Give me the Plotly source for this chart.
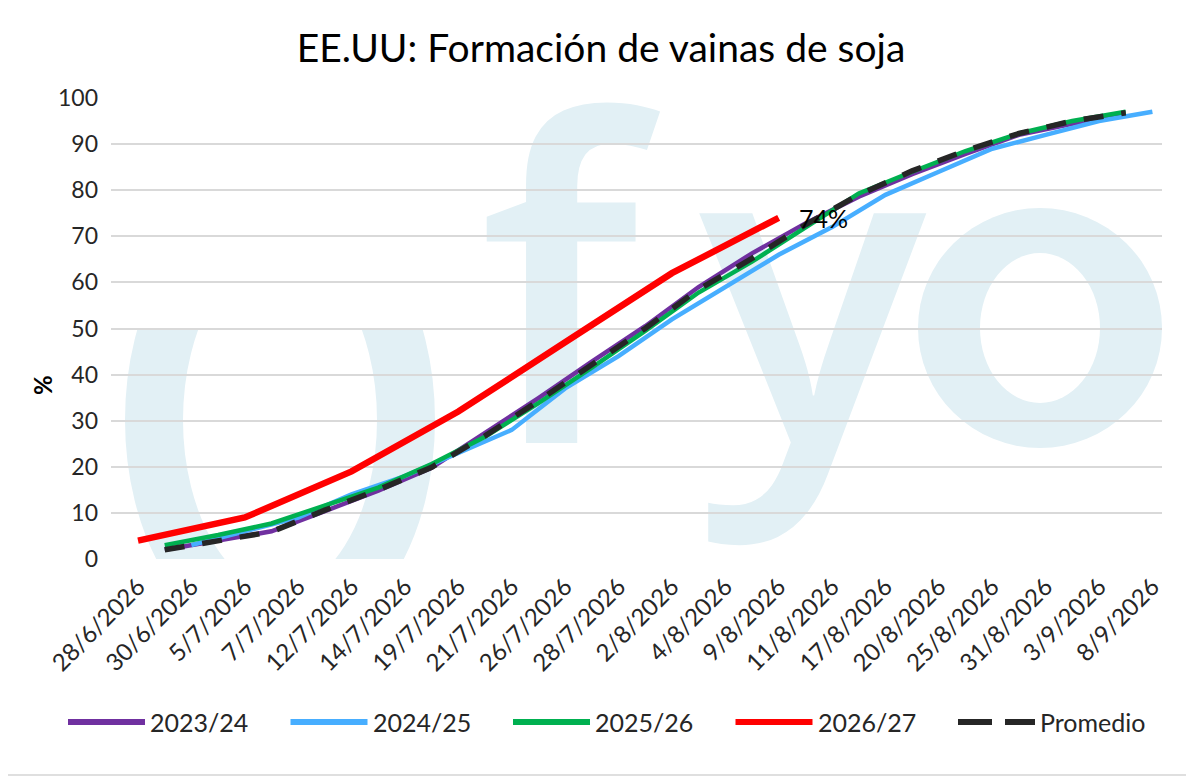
import base64
import plotly.graph_objects as go

# fechas del eje (campaña actual)
fechas = ["28/6/2026", "30/6/2026", "5/7/2026", "7/7/2026", "12/7/2026",
          "14/7/2026", "19/7/2026", "21/7/2026", "26/7/2026", "28/7/2026",
          "2/8/2026", "4/8/2026", "9/8/2026", "11/8/2026", "17/8/2026",
          "20/8/2026", "25/8/2026", "31/8/2026", "3/9/2026", "8/9/2026"]

# % de formación de vainas
v_2324 = [2.0, 4.0, 6.0, 10.4, 14.8, 19.8, 27.3, 34.9, 42.8, 50.5,
          59.0, 66.3, 72.8, 78.6, 83.5, 87.9, 92.0, 94.5, 96.8]
v_2425 = [3, 6, 9, 14, 18, 23, 28, 37, 44, 52, 59, 66, 72, 79, 84, 89, 92, 95, 97]
v_2526 = [3.0, 5.2, 7.7, 11.5, 15.5, 20.6, 26.5, 33.8, 41.5, 49.5,
          57.8, 64.5, 72.0, 79.3, 84.0, 88.5, 92.3, 95.0, 97.0]
v_2627 = [4, 9, 19, 32, 47, 62, 74]
v_prom = [2.0, 4.1, 5.9, 10.6, 15.0, 19.9, 26.7, 34.3, 42.1, 50.0,
          58.5, 65.2, 72.5, 79.0, 84.2, 88.6, 92.3, 95.0, 96.8]

fechas_2425 = fechas[1:]
fechas_2627 = fechas[0:13:2]

nombres = ["2023/24", "2024/25", "2025/26", "2026/27", "Promedio"]
colores = ["#7030A0", "#47AEFF", "#00B050", "#FF0000", "#262626"]
FUENTE = "Lato"

idx = {f: i for i, f in enumerate(fechas)}
# las campañas anteriores y el promedio caen entre dos fechas del eje
x_medio = [i + 0.5 for i in range(len(fechas) - 1)]
x_2425 = [idx[f] for f in fechas_2425]
x_2627 = [idx[f] for f in fechas_2627]

series = [
    (x_medio, v_2324, 4.5, "solid"),
    (x_2425, v_2425, 4.5, "solid"),
    (x_medio, v_2526, 4.5, "solid"),
    (x_2627, v_2627, 6.5, "solid"),
    (x_medio, v_prom, 5.5, "20px,18px"),
]

fig = go.Figure()
for (xs, ys, w, dash), nom, col in zip(series, nombres, colores):
    fig.add_trace(go.Scatter(x=xs, y=ys, name=nom, mode="lines",
                             line=dict(color=col, width=w, dash=dash),
                             showlegend=False, hoverinfo="skip"))

# marca de agua fyo (coordenadas dentro del área de gráfico)
AGUA = "#E2F0F5"
svg = f"""<svg xmlns="http://www.w3.org/2000/svg" width="1051" height="461" viewBox="0 0 1051 461">
<defs><clipPath id="c"><rect x="0" y="232" width="1051" height="229"/></clipPath></defs>
<ellipse cx="169" cy="322" rx="126" ry="200" fill="none" stroke="{AGUA}" stroke-width="58" clip-path="url(#c)"/>
<text x="368" y="345" font-family="Open Sans" font-weight="600" font-size="445" fill="{AGUA}">f</text>
<text x="588" y="345" font-family="Open Sans" font-weight="600" font-size="425" fill="{AGUA}">y</text>
<ellipse cx="929" cy="230" rx="122" ry="120" fill="{AGUA}"/>
<ellipse cx="929" cy="230" rx="60" ry="75" fill="white"/>
</svg>"""
src = "data:image/svg+xml;base64," + base64.b64encode(svg.encode()).decode()

# la página deja 8 px de margen: todo se corre 8 px
OFF = 8
W, H = 1194 - OFF, 776 - OFF
PL, PR, PT, PB = 111, 1162, 98, 559


def px(xp):
    return (xp - PL) / (PR - PL)


def py(yp):
    return (PB - yp) / (PB - PT)


# leyenda manual
shapes = []
annots = []
for k, (nom, col) in enumerate(zip(nombres, colores)):
    x0 = 68 + 222.5 * k
    dash = "34px,13px" if nom == "Promedio" else "solid"
    shapes.append(dict(type="line", xref="paper", yref="paper",
                       x0=px(x0), x1=px(x0 + 77), y0=py(722), y1=py(722),
                       line=dict(color=col, width=6, dash=dash)))
    annots.append(dict(text=nom, xref="paper", yref="paper", x=px(x0 + 80), y=py(722),
                       xanchor="left", yanchor="middle", showarrow=False,
                       font=dict(family=FUENTE, size=25, color="#262626")))

# borde del gráfico
shapes.append(dict(type="rect", xref="paper", yref="paper",
                   x0=px(0.5), x1=px(1193), y0=py(775), y1=py(0.5),
                   line=dict(color="#BFBFBF", width=1)))

annots.append(dict(text=f"{v_2627[-1]}%", x=x_2627[-1], y=v_2627[-1], xshift=18,
                   xanchor="left", yanchor="middle", showarrow=False,
                   font=dict(family=FUENTE, size=25, color="#000000")))

# título del eje y
annots.append(dict(text="<b>%</b>", xref="paper", yref="paper", x=px(42), y=py(385),
                   textangle=-90, showarrow=False, xanchor="center", yanchor="middle",
                   font=dict(family=FUENTE, size=24, color="#000000")))

fig.update_layout(
    width=W, height=H,
    margin=dict(l=PL - OFF, r=W - (PR - OFF), t=PT - OFF, b=H - (PB - OFF)),
    paper_bgcolor="white", plot_bgcolor="white",
    title=dict(text="EE.UU: Formación de vainas de soja", x=0.5, xanchor="center",
               y=1 - (48 - OFF) / H, yanchor="middle",
               font=dict(family=FUENTE, size=39, color="#000000")),
    xaxis=dict(range=[-0.506, 19.18], tickmode="array", tickvals=list(range(len(fechas))),
               ticktext=fechas, tickangle=-45, showgrid=False, zeroline=False,
               ticks="", ticklabelstandoff=8,
               tickfont=dict(family=FUENTE, size=24, color="#262626")),
    yaxis=dict(range=[0, 100], dtick=10, gridcolor="#D9D9D9", gridwidth=1.5,
               zeroline=False, ticks="", ticklabelstandoff=12,
               tickfont=dict(family=FUENTE, size=23, color="#262626")),
    images=[dict(source=src, xref="paper", yref="paper", x=0, y=1, sizex=1, sizey=1,
                 xanchor="left", yanchor="top", sizing="stretch", layer="below")],
    shapes=shapes,
    annotations=annots,
)

fig.write_html("out.html")
